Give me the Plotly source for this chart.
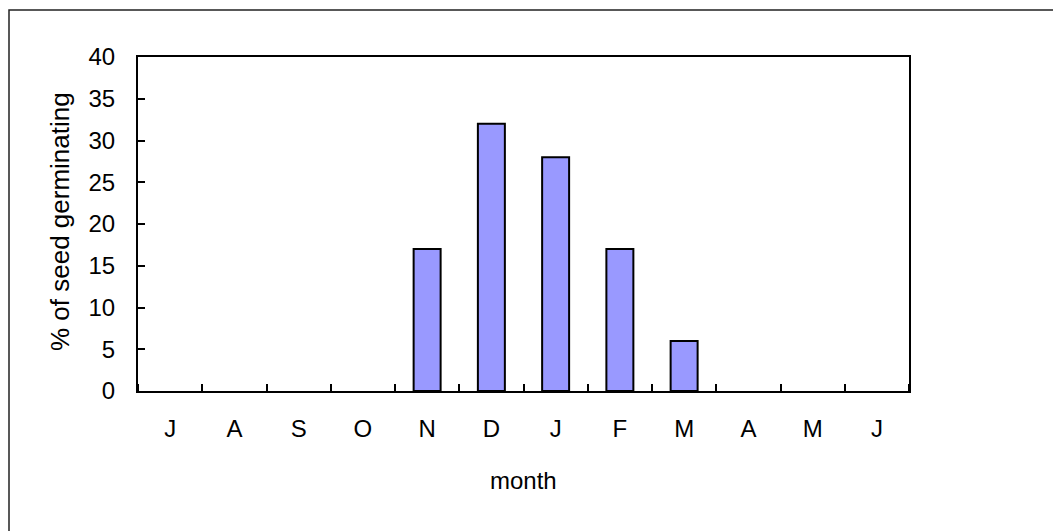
import plotly.graph_objects as go

# Monthly germination
months = ["J", "A", "S", "O", "N", "D", "J", "F", "M", "A", "M", "J"]
pct_germinating = [0, 0, 0, 0, 17, 32, 28, 17, 6, 0, 0, 0]
y_ticks = [0, 5, 10, 15, 20, 25, 30, 35, 40]

positions = list(range(len(months)))
# empty months get no outline so nothing shows on the baseline
outline_widths = [2 if v > 0 else 0 for v in pct_germinating]

fig = go.Figure(
    go.Bar(
        x=positions,
        y=pct_germinating,
        width=0.42,
        marker=dict(color="#9999FF", line=dict(color="black", width=outline_widths)),
    )
)

font = "Liberation Sans, Arial, sans-serif"

fig.update_layout(
    width=1053,
    height=531,
    margin=dict(l=138, r=144, t=57, b=140),
    paper_bgcolor="white",
    plot_bgcolor="white",
    showlegend=False,
    font=dict(family=font, color="black", size=24),
    xaxis=dict(
        range=[-0.5, len(months) - 0.5],
        tickmode="array",
        tickvals=positions,
        ticktext=months,
        ticks="",
        ticklabelstandoff=15,
        showgrid=False,
        zeroline=False,
        showline=True,
        linecolor="black",
        linewidth=2,
        mirror=True,
        minor=dict(tick0=0.5, dtick=1, ticks="inside", ticklen=7,
                   tickcolor="black", tickwidth=2, showgrid=False),
        tickfont=dict(size=24),
    ),
    yaxis=dict(
        range=[0, 40],
        tickmode="array",
        tickvals=y_ticks,
        ticks="inside",
        ticklen=7,
        tickwidth=2,
        tickcolor="black",
        ticklabelstandoff=16,
        showgrid=False,
        zeroline=False,
        showline=True,
        linecolor="black",
        linewidth=2,
        mirror=True,
        tickfont=dict(size=24),
    ),
    annotations=[
        dict(text="month", x=0.5, y=(391 - 480) / 334, xref="paper", yref="paper",
             showarrow=False, xanchor="center", yanchor="middle",
             font=dict(size=24)),
        dict(text="% of seed germinating", x=(60 - 138) / 771, y=(391 - 222) / 334,
             xref="paper", yref="paper", textangle=-90,
             showarrow=False, xanchor="center", yanchor="middle",
             font=dict(size=26)),
    ],
    shapes=[
        # outer chart frame
        dict(type="rect", xref="paper", yref="paper",
             x0=(9 - 138) / 771, x1=1.5, y0=-1.0, y1=(391 - 10) / 334,
             line=dict(color="#222222", width=1.5), layer="below"),
    ],
)

fig.write_html("out.html")
